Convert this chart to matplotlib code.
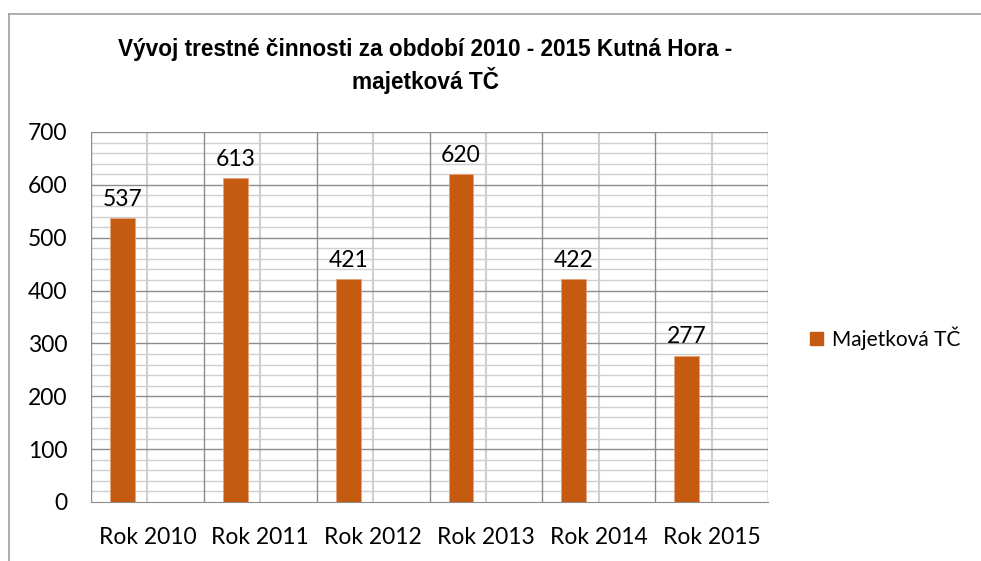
import matplotlib
matplotlib.use("Agg")
import matplotlib.pyplot as plt
from matplotlib.lines import Line2D
from matplotlib.patches import Patch
from matplotlib.ticker import MultipleLocator
import numpy as np

categories = ["Rok 2010", "Rok 2011", "Rok 2012", "Rok 2013", "Rok 2014", "Rok 2015"]
values = [537, 613, 421, 620, 422, 277]
series_name = "Majetková TČ"
title = "Vývoj trestné činnosti za období 2010 - 2015 Kutná Hora -\nmajetková TČ"

W, H = 981, 561
fig = plt.figure(figsize=(W / 100, H / 100), dpi=100)
fig.patch.set_facecolor("white")

# plot area in pixels
left, right, top, bottom = 91, 768, 132, 502
ax = fig.add_axes([left / W, 1 - bottom / H, (right - left) / W, (bottom - top) / H])

bar_color = "#C55A11"
x = np.arange(len(categories))
ax.bar(x - 0.221, values, width=0.22, color=bar_color, edgecolor="#E8A37A", linewidth=0.6, zorder=3)

ax.set_xlim(-0.5, len(categories) - 0.5)
ax.set_ylim(0, 700)

tick_font = "Lato"
fs = 16.5
ax.yaxis.set_major_locator(MultipleLocator(100))
ax.yaxis.set_minor_locator(MultipleLocator(20))
ax.set_xticks(x)
ax.set_xticklabels(categories, fontsize=fs, family=tick_font)
ax.tick_params(axis="x", which="both", length=0, pad=18)
ax.tick_params(axis="y", which="both", length=0, pad=17, labelsize=fs)
for lab in ax.get_yticklabels():
    lab.set_family(tick_font)

# grid lines
ax.grid(False)
for v in np.arange(20, 700, 20):
    major = (v % 100 == 0)
    ax.axhline(v, color="#8c8c8c" if major else "#cfcfcf", lw=1.0, zorder=2 if major else 1)
for b in np.arange(-0.5, len(categories) + 0.5, 1.0):
    ax.axvline(b, color="#8c8c8c", lw=1.0, zorder=2)
for m in x:
    ax.axvline(m, color="#cfcfcf", lw=1.5, zorder=1)
ax.axhline(700, color="#8c8c8c", lw=1.0, zorder=2)

for s in ax.spines.values():
    s.set_visible(False)
ax.spines["bottom"].set_visible(True)
ax.spines["bottom"].set_color("#8c8c8c")

for xi, v in zip(x, values):
    ax.annotate(str(v), (xi - 0.221, v), xytext=(0, 6), textcoords="offset points",
                ha="center", va="bottom", fontsize=fs, family=tick_font, zorder=4)

fig.text(425 / W, 1 - 66 / H, title, ha="center", va="center", fontsize=16.3,
         fontweight="bold", family="Liberation Sans", linespacing=1.25)

handles = [Patch(facecolor=bar_color, edgecolor=bar_color)]
leg = fig.legend(handles, [series_name], loc="center left", bbox_to_anchor=(810 / W, 1 - 338 / H),
                 frameon=False, prop={"family": tick_font, "size": 15},
                 handlelength=0.6, handleheight=0.6, handletextpad=0.45,
                 borderpad=0, borderaxespad=0)

# outer chart border (top and left visible)
fig.add_artist(Line2D([9 / W, 1.0], [1 - 14 / H, 1 - 14 / H], color="#a0a0a0", lw=1.2))
fig.add_artist(Line2D([9 / W, 9 / W], [1 - 14 / H, 0.0], color="#a0a0a0", lw=1.2))

fig.savefig("out.png", dpi=100)
